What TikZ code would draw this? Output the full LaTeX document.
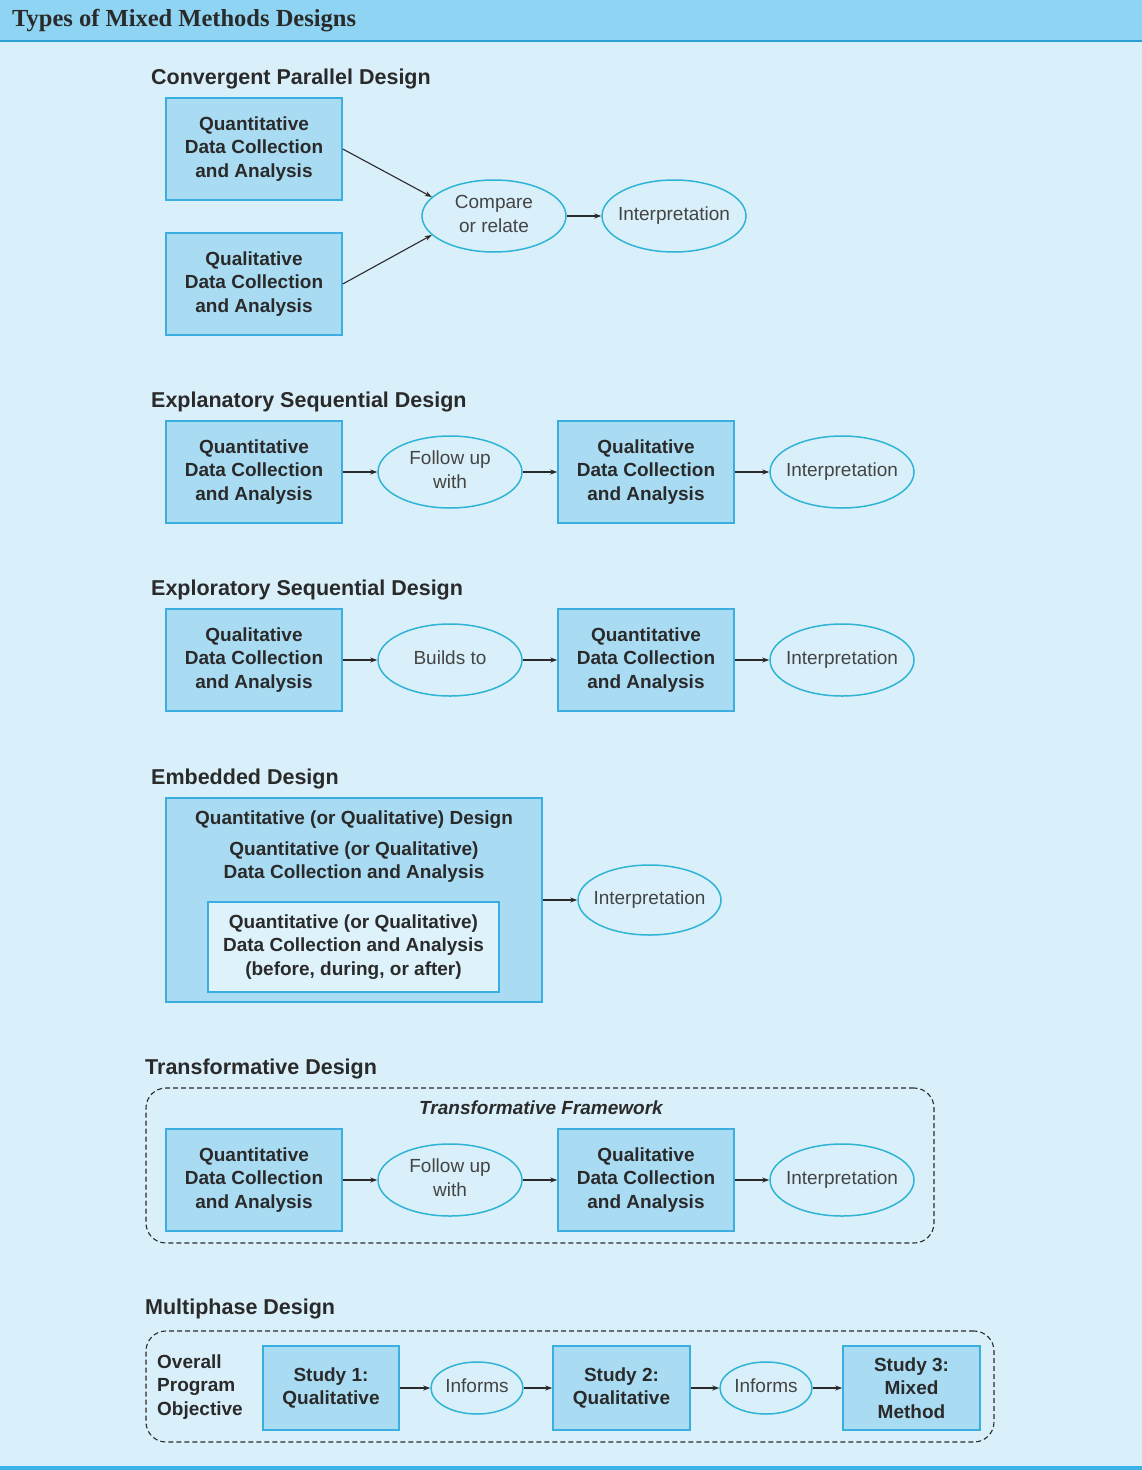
\documentclass[tikz,border=0pt]{standalone}
\usepackage{fontspec}
\setmainfont{Liberation Sans}
\newfontfamily\headfont{Liberation Serif}
\usetikzlibrary{shapes.geometric,arrows.meta}

\definecolor{pagebg}{HTML}{D9F0FA}
\definecolor{headbg}{HTML}{8FD4F2}
\definecolor{headline}{HTML}{2B9ED6}
\definecolor{edgeline}{HTML}{3AB3E8}
\definecolor{boxfill}{HTML}{A9DCF3}
\definecolor{boxline}{HTML}{3AAEDF}
\definecolor{ellline}{HTML}{2FB4D6}
\definecolor{innerfill}{HTML}{DDF2FB}
\definecolor{ink}{HTML}{2A2A2A}
\definecolor{softink}{HTML}{444444}

\newcommand{\boxfont}{\fontsize{19}{23.5}\selectfont\bfseries}
\newcommand{\ovalfont}{\fontsize{19}{24}\selectfont}
% oval labels take no width, so the ellipse keeps its set size
\newcommand{\ovtext}[1]{\makebox[0pt][c]{\raisebox{-2pt}{\begin{tabular}{@{}c@{}}#1\end{tabular}}}}

\tikzset{
  databox/.style={draw=boxline, line width=1.5pt, fill=boxfill,
    minimum width=176pt, minimum height=102pt, inner sep=0pt,
    align=center, font=\boxfont, text=ink},
  oval/.style={ellipse, draw=ellline, line width=1.5pt, fill=pagebg,
    minimum width=144pt, minimum height=72pt, inner sep=0pt,
    font=\ovalfont, text=softink},
  heading/.style={anchor=west, inner sep=0pt, text=ink,
    font=\fontsize{21.5}{26}\selectfont\bfseries},
  plain/.style={inner sep=0pt, align=center, font=\boxfont, text=ink},
  flow/.style={draw=ink, line width=1.1pt, -{Stealth[length=7pt,width=5pt]}},
  frame/.style={draw=ink, dash pattern=on 5pt off 3pt, line width=1.1pt,
    rounded corners=20pt, inner sep=0pt}
}

\begin{document}
\begin{tikzpicture}[x=1pt, y=-1pt]
  \useasboundingbox (0,0) rectangle (1142,1470);

  % page background, header band and edges
  \fill[pagebg] (0,0) rectangle (1142,1470);
  \fill[headbg] (0,0) rectangle (1142,41);
  \draw[headline, line width=2.5pt] (0,41) -- (1142,41);
  \draw[edgeline, line width=4pt] (0,1468) -- (1142,1468);
  \node[anchor=west, inner sep=0pt, text=ink,
        font=\headfont\fontsize{24.5}{28}\selectfont\bfseries] (title) at (12,21) {Types of Mixed Methods Designs};

  % Convergent Parallel Design
  \node[heading] (h1) at (151,79) {Convergent Parallel Design};
  \node[databox] (c1) at (254,149) {Quantitative\\Data Collection\\and Analysis};
  \node[databox] (c2) at (254,284) {Qualitative\\Data Collection\\and Analysis};
  \node[oval] (cmp) at (494,216) {\ovtext{Compare\\or relate}};
  \node[oval] (ci) at (674,216) {\ovtext{Interpretation}};
  \draw[flow] (c1.east) -- (cmp.163);
  \draw[flow] (c2.east) -- (cmp.197);
  \draw[flow] (cmp) -- (ci);

  % Explanatory Sequential Design
  \node[heading] (h2) at (151,402) {Explanatory Sequential Design};
  \node[databox] (e1) at (254,472) {Quantitative\\Data Collection\\and Analysis};
  \node[oval] (e2) at (450,472) {\ovtext{Follow up\\with}};
  \node[databox] (e3) at (646,472) {Qualitative\\Data Collection\\and Analysis};
  \node[oval] (e4) at (842,472) {\ovtext{Interpretation}};
  \draw[flow] (e1) -- (e2);
  \draw[flow] (e2) -- (e3);
  \draw[flow] (e3) -- (e4);

  % Exploratory Sequential Design
  \node[heading] (h3) at (151,590) {Exploratory Sequential Design};
  \node[databox] (x1) at (254,660) {Qualitative\\Data Collection\\and Analysis};
  \node[oval] (x2) at (450,660) {\ovtext{Builds to}};
  \node[databox] (x3) at (646,660) {Quantitative\\Data Collection\\and Analysis};
  \node[oval] (x4) at (842,660) {\ovtext{Interpretation}};
  \draw[flow] (x1) -- (x2);
  \draw[flow] (x2) -- (x3);
  \draw[flow] (x3) -- (x4);

  % Embedded Design
  \node[heading] (h4) at (151,779) {Embedded Design};
  \node[databox, minimum width=376pt, minimum height=204pt] (emb) at (354,900) {};
  \node[plain] (emt) at (354,820) {Quantitative (or Qualitative) Design};
  \node[plain] (emm) at (354,862) {Quantitative (or Qualitative)\\Data Collection and Analysis};
  \node[databox, fill=innerfill, minimum width=291pt, minimum height=90pt] (emi) at (353.5,947)
        {Quantitative (or Qualitative)\\Data Collection and Analysis\\(before, during, or after)};
  \node[oval, minimum width=143pt, minimum height=70pt] (emr) at (649.5,900) {\ovtext{Interpretation}};
  \draw[flow] (emb) -- (emr);

  % Transformative Design
  \node[heading] (h5) at (145,1069) {Transformative Design};
  \node[frame, minimum width=788pt, minimum height=155pt] (tf) at (540,1165.5) {};
  \node[plain, font=\fontsize{19}{23.5}\selectfont\bfseries\itshape] (tft) at (541,1108) {Transformative Framework};
  \node[databox] (t1) at (254,1180) {Quantitative\\Data Collection\\and Analysis};
  \node[oval] (t2) at (450,1180) {\ovtext{Follow up\\with}};
  \node[databox] (t3) at (646,1180) {Qualitative\\Data Collection\\and Analysis};
  \node[oval] (t4) at (842,1180) {\ovtext{Interpretation}};
  \draw[flow] (t1) -- (t2);
  \draw[flow] (t2) -- (t3);
  \draw[flow] (t3) -- (t4);

  % Multiphase Design
  \node[heading] (h6) at (145,1309) {Multiphase Design};
  \node[frame, minimum width=848pt, minimum height=111pt] (mf) at (570,1386.5) {};
  \node[plain, anchor=west, align=left] (mo) at (157,1387) {Overall\\Program\\Objective};
  \node[databox, minimum width=136pt, minimum height=84pt] (m1) at (331,1388) {Study 1:\\Qualitative};
  \node[oval, minimum width=92pt, minimum height=52pt] (m2) at (477,1388) {\ovtext{Informs}};
  \node[databox, minimum width=137pt, minimum height=84pt] (m3) at (621.5,1388) {Study 2:\\Qualitative};
  \node[oval, minimum width=92pt, minimum height=52pt] (m4) at (766,1388) {\ovtext{Informs}};
  \node[databox, minimum width=137pt, minimum height=84pt] (m5) at (911.5,1388) {Study 3:\\Mixed\\Method};
  \draw[flow] (m1) -- (m2);
  \draw[flow] (m2) -- (m3);
  \draw[flow] (m3) -- (m4);
  \draw[flow] (m4) -- (m5);
\end{tikzpicture}
\end{document}
